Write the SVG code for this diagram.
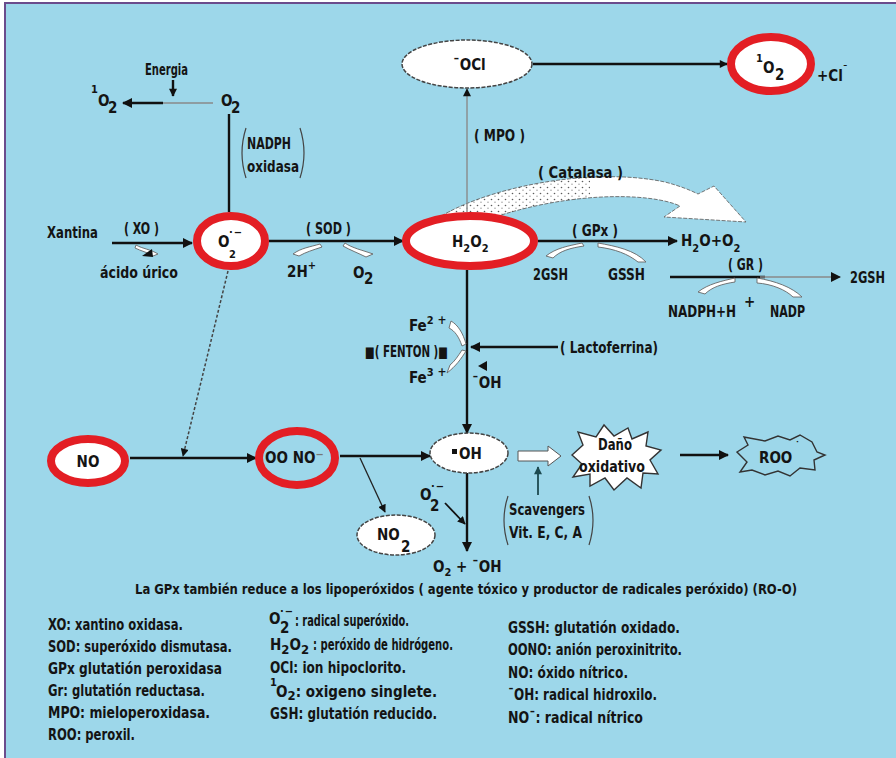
<svg xmlns="http://www.w3.org/2000/svg" width="896" height="758" viewBox="0 0 896 758">
  <style>
    .t { font-family: "Liberation Sans Narrow", "DejaVu Sans Condensed", "Liberation Sans", sans-serif; font-weight: bold; fill: #141414; font-size: 15px; }
    .s { font-size: 11px; }
    .lg { font-size: 15px; }
    .cap { font-size: 14px; }
    .ln { stroke: #111; stroke-width: 2.4; fill: none; }
    .gl { stroke: #8a8a8a; stroke-width: 1.4; fill: none; }
    .red { fill: #ffffff; stroke: #e31e24; stroke-width: 8; }
    .redo { fill: none; stroke: #e31e24; stroke-width: 8; }
    .wht { fill: #ffffff; stroke: #444; stroke-width: 1.5; stroke-dasharray: 4 1.5; }
    .sw { fill: #ffffff; stroke: #666; stroke-width: 0.9; }
    .br { fill: none; stroke: #444; stroke-width: 1.2; }
  </style>
  <defs>
    <marker id="ah" viewBox="0 0 10 10" refX="9" refY="5" markerWidth="12" markerHeight="10" markerUnits="userSpaceOnUse" orient="auto">
      <path d="M0,0 L10,5 L0,10 Z" fill="#111"/>
    </marker>
    <marker id="ahs" viewBox="0 0 10 10" refX="9" refY="5" markerWidth="9" markerHeight="8" markerUnits="userSpaceOnUse" orient="auto">
      <path d="M0,0 L10,5 L0,10 Z" fill="#111"/>
    </marker>
    <marker id="aht" viewBox="0 0 10 10" refX="9" refY="5" markerWidth="9" markerHeight="8" markerUnits="userSpaceOnUse" orient="auto">
      <path d="M0,0 L10,5 L0,10 Z" fill="#1d4a50"/>
    </marker>
    <pattern id="stip" width="7" height="6" patternUnits="userSpaceOnUse">
      <circle cx="1.5" cy="1.5" r="0.8" fill="#333"/>
      <circle cx="5" cy="4.2" r="0.6" fill="#555"/>
    </pattern>
    <clipPath id="leftpart">
      <rect x="400" y="150" width="190" height="90"/>
    </clipPath>
  </defs>

  <!-- page -->
  <rect x="0" y="0" width="896" height="758" fill="#ffffff"/>
  <rect x="5" y="3" width="900" height="760" fill="#9dd7ea" stroke="#6b4c8c" stroke-width="2"/>

  <!-- catalase swoosh (drawn under nodes) -->
  <g id="catalasa-arrow">
    <path class="sw" d="M 432 222 C 480 188, 590 166, 665 182 C 680 186, 690 190, 698 194 L 714 186 L 746 222 L 664 217 L 680 206 C 650 192, 560 190, 470 226 Z" stroke-dasharray="4 1.5"/>
    <path d="M 432 222 C 480 188, 590 166, 665 182 C 680 186, 690 190, 698 194 L 714 186 L 746 222 L 664 217 L 680 206 C 650 192, 560 190, 470 226 Z" fill="url(#stip)" clip-path="url(#leftpart)" opacity="0.8"/>
  </g>

  <!-- connectors -->
  <g id="connectors">
    <line class="ln" x1="173" y1="80" x2="173" y2="96" marker-end="url(#ahs)" stroke-width="2"/>
    <line class="gl" x1="213" y1="103" x2="160" y2="103" stroke-width="2"/>
    <line class="ln" x1="163" y1="103" x2="123" y2="103" marker-end="url(#ah)"/>
    <line class="ln" x1="229" y1="114" x2="229" y2="212"/>
    <line class="ln" x1="112" y1="243" x2="192" y2="243" marker-end="url(#ah)"/>
    <line class="ln" x1="269" y1="241" x2="403" y2="241" marker-end="url(#ah)"/>
    <line class="gl" x1="467" y1="212" x2="467" y2="89" marker-end="url(#ahs)"/>
    <line class="ln" x1="533" y1="64" x2="727" y2="64" stroke-width="2" marker-end="url(#ahs)"/>
    <line class="ln" x1="538" y1="241" x2="677" y2="241" marker-end="url(#ah)"/>
    <line class="ln" x1="670" y1="277" x2="765" y2="277" stroke-width="2"/>
    <line class="gl" x1="760" y1="277" x2="840" y2="277" stroke-width="1.8" marker-end="url(#ah)"/>
    <line class="ln" x1="467" y1="270" x2="467" y2="433" marker-end="url(#ah)"/>
    <line class="ln" x1="558" y1="347" x2="471" y2="347" marker-end="url(#ah)"/>
    <line x1="228" y1="271" x2="183" y2="456" stroke="#444" stroke-width="1.5" stroke-dasharray="3 2" marker-end="url(#ahs)"/>
    <line class="ln" x1="130" y1="458" x2="256" y2="458" marker-end="url(#ah)"/>
    <line class="ln" x1="340" y1="456" x2="430" y2="456" marker-end="url(#ah)"/>
    <line x1="360" y1="458" x2="385" y2="512" stroke="#222" stroke-width="1.3" marker-end="url(#ahs)"/>
    <line class="ln" x1="467" y1="473" x2="467" y2="551" marker-end="url(#ah)"/>
    <line x1="445" y1="503" x2="465" y2="524" stroke="#111" stroke-width="1.8" marker-end="url(#ahs)"/>
    <line x1="538" y1="495" x2="538" y2="467" stroke="#1d4a50" stroke-width="1.8" marker-end="url(#aht)"/>
    <line class="ln" x1="680" y1="455" x2="728" y2="455" marker-end="url(#ah)"/>
    <!-- hollow arrow towards oxidative damage -->
    <path d="M 518 451 L 548 451 L 548 446 L 561 456 L 548 466 L 548 461 L 518 461 Z" fill="#ffffff" stroke="#555" stroke-width="1"/>
    <!-- small reagent side arrows -->
    <path class="sw" d="M 136 245 C 143 249, 150 249, 158 254 L 153 256 C 147 252, 141 251, 135 248 Z"/>
    <polygon points="142,256 152,249 153,257" fill="#111"/>
    <path class="sw" d="M 320 244 C 310 247, 301 248, 293 254 L 299 256 C 306 252, 313 250, 322 247 Z"/>
    <path class="sw" d="M 345 243 C 352 248, 362 250, 373 254 L 366 257 C 358 253, 350 250, 343 246 Z"/>
    <path class="sw" d="M 582 243 C 568 246, 556 248, 546 256 L 553 258 C 560 251, 570 248, 584 246 Z"/>
    <path class="sw" d="M 598 243 C 615 246, 635 250, 646 262 L 638 262 C 628 254, 615 249, 598 247 Z"/>
    <path class="sw" d="M 735 278 C 722 281, 708 284, 698 292 L 705 294 C 712 287, 722 284, 735 282 Z"/>
    <path class="sw" d="M 757 278 C 775 281, 792 287, 802 297 L 793 297 C 786 290, 772 284, 757 283 Z"/>
    <path class="sw" d="M 451 321 C 458 325, 463 333, 466 344 L 462 346 C 459 337, 455 331, 449 328 Z"/>
    <path class="sw" d="M 466 351 C 461 359, 456 366, 447 373 L 450 365 C 455 361, 458 356, 462 350 Z"/>
    <polygon points="478,366 487,361 487,371" fill="#111"/>
  </g>

  <!-- brackets -->
  <g id="brackets">
    <path class="br" d="M 246 128 Q 238 153 246 178"/>
    <path class="br" d="M 300 128 Q 308 153 300 178"/>
    <path class="br" d="M 508 496 Q 500 520 508 545"/>
    <path class="br" d="M 589 496 Q 597 520 589 545"/>
  </g>

  <!-- nodes -->
  <g id="n-o2-superoxido">
    <ellipse class="red" cx="231" cy="241" rx="34" ry="25"/>
    <text class="t" x="218" y="247">O</text>
    <text class="t s" x="229" y="236">·<tspan dx="1">−</tspan></text>
    <text class="t s" x="229" y="258" font-size="13">2</text>
  </g>
  <g id="n-h2o2">
    <ellipse class="red" cx="470" cy="241" rx="64" ry="25"/>
    <text class="t" x="452" y="247" font-size="14">H<tspan class="s" dy="5">2</tspan><tspan dy="-5">O</tspan><tspan class="s" dy="5">2</tspan></text>
  </g>
  <g id="n-ocl">
    <ellipse class="wht" cx="467" cy="64" rx="65" ry="24"/>
    <text class="t" x="453" y="70" font-size="14">¯OCl</text>
  </g>
  <g id="n-singlete">
    <ellipse class="red" cx="771" cy="64" rx="40" ry="27"/>
    <text class="t s" x="756" y="62">1</text>
    <text class="t" x="763" y="73" font-size="16">O</text>
    <text class="t" x="775" y="80" font-size="13">2</text>
  </g>
  <g id="n-no">
    <ellipse class="red" cx="88" cy="461" rx="37" ry="22"/>
    <text class="t" x="88" y="467" text-anchor="middle">NO</text>
  </g>
  <g id="n-oono">
    <ellipse class="redo" cx="297" cy="458" rx="38" ry="27"/>
    <text class="t" x="265" y="463" font-size="14">OO NO<tspan class="s" dy="-5" fill="#777">−</tspan></text>
  </g>
  <g id="n-oh">
    <ellipse class="wht" cx="469" cy="453" rx="39" ry="20"/>
    <rect x="452" y="449" width="5" height="5" fill="#111"/>
    <text class="t" x="459" y="459" font-size="14">OH</text>
  </g>
  <g id="n-no2">
    <ellipse class="wht" cx="396" cy="535" rx="39" ry="20"/>
    <text class="t" x="377" y="540" font-size="14">NO</text>
    <text class="t" x="401" y="552" font-size="13">2</text>
  </g>
  <g id="n-dano">
    <polygon points="572,455 583,445 578,432 596,437 604,425 614,436 628,428 632,439 648,432 646,446 661,450 650,460 658,474 643,473 641,488 627,478 614,490 605,478 590,486 590,474 573,477 582,464" fill="#ffffff" stroke="#333" stroke-width="1.4"/>
    <text class="t" x="598" y="450" font-size="14" textLength="34" lengthAdjust="spacingAndGlyphs">Daño</text>
    <text class="t" x="579" y="472" font-size="14" textLength="66" lengthAdjust="spacingAndGlyphs">oxidativo</text>
  </g>
  <g id="n-roo">
    <polygon points="737,452 748,445 744,437 765,441 778,436 790,440 800,435 812,442 817,452 825,455 814,460 815,470 800,468 790,476 778,471 765,475 752,470 740,472 747,462" fill="none" stroke="#333" stroke-width="1.4"/>
    <text class="t" x="759" y="463" font-size="14">ROO</text>
    <text class="t s" x="795" y="449">˙</text>
  </g>

  <!-- free labels -->
  <g id="labels">
    <text class="t" x="145" y="75" font-size="13" textLength="43" lengthAdjust="spacingAndGlyphs">Energia</text>
    <text class="t s" x="91" y="93">1</text>
    <text class="t" x="98" y="106" font-size="16">O</text>
    <text class="t" x="108" y="113" font-size="13">2</text>
    <text class="t" x="221" y="106" font-size="16">O</text>
    <text class="t" x="231" y="113" font-size="13">2</text>
    <text class="t" x="247" y="149" font-size="13" textLength="44" lengthAdjust="spacingAndGlyphs">NADPH</text>
    <text class="t" x="247" y="172" font-size="13" textLength="52" lengthAdjust="spacingAndGlyphs">oxidasa</text>
    <text class="t" x="474" y="141" font-size="14" textLength="51" lengthAdjust="spacingAndGlyphs">( MPO )</text>
    <text class="t" x="538" y="178" font-size="14" textLength="85" lengthAdjust="spacingAndGlyphs">( Catalasa )</text>
    <text class="t" x="817" y="81" font-size="14">+Cl<tspan class="s" dy="-8">¯</tspan></text>
    <text class="t" x="47" y="238" font-size="14" textLength="51" lengthAdjust="spacingAndGlyphs">Xantina</text>
    <text class="t" x="124" y="234" font-size="14" textLength="35" lengthAdjust="spacingAndGlyphs">( XO )</text>
    <text class="t" x="100" y="278" font-size="14" textLength="78" lengthAdjust="spacingAndGlyphs">ácido úrico</text>
    <text class="t" x="306" y="234" font-size="14" textLength="45" lengthAdjust="spacingAndGlyphs">( SOD )</text>
    <text class="t" x="287" y="277" font-size="14">2H<tspan class="s" dy="-8">+</tspan></text>
    <text class="t" x="353" y="278" font-size="15">O</text>
    <text class="t" x="364" y="284" font-size="12">2</text>
    <text class="t" x="572" y="236" font-size="14" textLength="46" lengthAdjust="spacingAndGlyphs">( GPx )</text>
    <text class="t" x="533" y="280" font-size="14" textLength="35" lengthAdjust="spacingAndGlyphs">2GSH</text>
    <text class="t" x="608" y="280" font-size="14" textLength="37" lengthAdjust="spacingAndGlyphs">GSSH</text>
    <text class="t" x="681" y="246" font-size="15">H<tspan class="s" dy="6" font-size="13">2</tspan><tspan dy="-6">O+O</tspan><tspan class="s" dy="6" font-size="13">2</tspan></text>
    <text class="t" x="728" y="270" font-size="14" textLength="35" lengthAdjust="spacingAndGlyphs">( GR )</text>
    <text class="t" x="850" y="283" font-size="14" textLength="35" lengthAdjust="spacingAndGlyphs">2GSH</text>
    <text class="t" x="668" y="317" font-size="14" textLength="68" lengthAdjust="spacingAndGlyphs">NADPH+H</text>
    <text class="t" x="744" y="307" font-size="14">+</text>
    <text class="t" x="770" y="317" font-size="14" textLength="35" lengthAdjust="spacingAndGlyphs">NADP</text>
    <text class="t" x="409" y="331" font-size="14">Fe<tspan class="s" dy="-7" font-size="12">2</tspan><tspan dy="0" font-size="12"> +</tspan></text>
    <text class="t" x="365" y="357" font-size="14" textLength="83" lengthAdjust="spacingAndGlyphs">■( FENTON )■</text>
    <text class="t" x="409" y="383" font-size="14">Fe<tspan class="s" dy="-7" font-size="12">3</tspan><tspan font-size="12"> +</tspan></text>
    <text class="t" x="472" y="388" font-size="14">¯OH</text>
    <text class="t" x="560" y="353" font-size="14" textLength="98" lengthAdjust="spacingAndGlyphs">( Lactoferrina)</text>
    <text class="t" x="420" y="500" font-size="15">O</text>
    <text class="t s" x="431" y="490">·<tspan dx="1">−</tspan></text>
    <text class="t" x="430" y="511" font-size="13">2</text>
    <text class="t" x="433" y="572" font-size="15">O<tspan class="s" dy="4" font-size="12">2</tspan><tspan dy="-4"> + ¯OH</tspan></text>
    <text class="t cap" x="135" y="594" textLength="662" lengthAdjust="spacingAndGlyphs">La GPx también reduce a los lipoperóxidos ( agente tóxico y productor de radicales peróxido) (RO-O)</text>
    <text class="t" x="509" y="515" font-size="14" textLength="76" lengthAdjust="spacingAndGlyphs">Scavengers</text>
    <text class="t" x="509" y="538" font-size="14" textLength="73" lengthAdjust="spacingAndGlyphs">Vit. E, C, A</text>
  </g>

  <!-- abbreviations -->
  <g id="legend">
    <text class="t lg" x="48" y="630" textLength="135" lengthAdjust="spacingAndGlyphs">XO: xantino oxidasa.</text>
    <text class="t lg" x="48" y="652" textLength="184" lengthAdjust="spacingAndGlyphs">SOD: superóxido dismutasa.</text>
    <text class="t lg" x="48" y="674" textLength="174" lengthAdjust="spacingAndGlyphs">GPx glutatión peroxidasa</text>
    <text class="t lg" x="48" y="696" textLength="157" lengthAdjust="spacingAndGlyphs">Gr: glutatión reductasa.</text>
    <text class="t lg" x="48" y="718" textLength="162" lengthAdjust="spacingAndGlyphs">MPO: mieloperoxidasa.</text>
    <text class="t lg" x="48" y="740" textLength="87" lengthAdjust="spacingAndGlyphs">ROO: peroxil.</text>

    <text class="t lg" x="269" y="624">O</text>
    <text class="t s" x="280" y="615">·<tspan dx="1">−</tspan></text>
    <text class="t" x="280" y="633" font-size="13">2</text>
    <text class="t lg" x="295" y="626" textLength="114" lengthAdjust="spacingAndGlyphs">: radical superóxido.</text>
    <text class="t lg" x="270" y="650">H<tspan dy="4" font-size="13">2</tspan><tspan dy="-4">O</tspan><tspan dy="4" font-size="13">2</tspan></text>
    <text class="t lg" x="313" y="650" textLength="140" lengthAdjust="spacingAndGlyphs">: peróxido de hidrógeno.</text>
    <text class="t lg" x="270" y="673" textLength="136" lengthAdjust="spacingAndGlyphs">OCl: ion hipoclorito.</text>
    <text class="t s" x="270" y="686">1</text>
    <text class="t lg" x="276" y="697">O<tspan dy="3" font-size="13">2</tspan><tspan dy="-3">:  oxigeno singlete.</tspan></text>
    <text class="t lg" x="270" y="719" textLength="167" lengthAdjust="spacingAndGlyphs">GSH: glutatión reducido.</text>

    <text class="t lg" x="508" y="633" textLength="172" lengthAdjust="spacingAndGlyphs">GSSH: glutatión oxidado.</text>
    <text class="t lg" x="508" y="655" textLength="174" lengthAdjust="spacingAndGlyphs">OONO: anión peroxinitrito.</text>
    <text class="t lg" x="508" y="678" textLength="120" lengthAdjust="spacingAndGlyphs">NO: óxido nítrico.</text>
    <text class="t lg" x="508" y="700" textLength="149" lengthAdjust="spacingAndGlyphs">¯OH: radical hidroxilo.</text>
    <text class="t lg" x="508" y="723" textLength="135" lengthAdjust="spacingAndGlyphs">NO¯: radical nítrico</text>
  </g>
</svg>
